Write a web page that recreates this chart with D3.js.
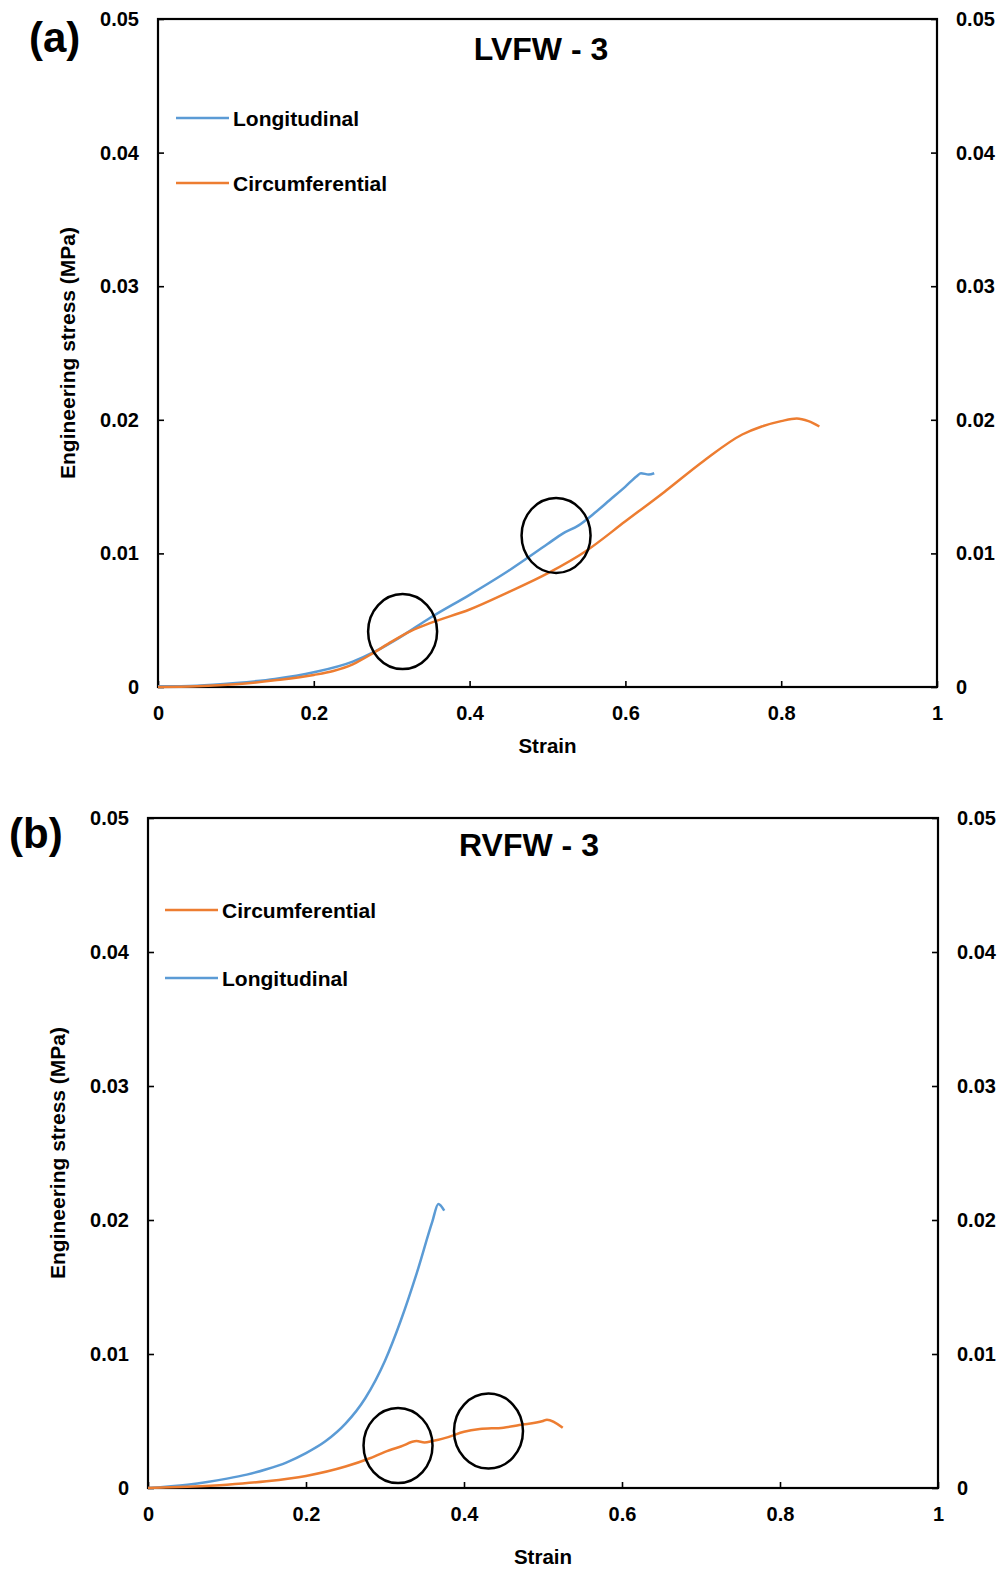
<!DOCTYPE html>
<html>
<head>
<meta charset="utf-8">
<script src="https://cdn.jsdelivr.net/npm/d3@7"></script>
<style>
  body { margin: 0; background: #fff; }
  svg { display: block; font-family: "Liberation Sans", Arial, sans-serif; font-weight: bold; }
</style>
</head>
<body>
<svg id="chart" width="1001" height="1570"></svg>
<script>
// axis ticks shared by both panels
const strainTicks = [0, 0.2, 0.4, 0.6, 0.8, 1];
const stressTicks = [0, 0.01, 0.02, 0.03, 0.04, 0.05];

// (a) LVFW - 3
const lvLongStrain = [0, 0.05, 0.1, 0.15, 0.2, 0.25, 0.28, 0.31, 0.35, 0.4, 0.45, 0.5, 0.52, 0.54, 0.56, 0.58, 0.6, 0.615, 0.62, 0.63, 0.637];
const lvLongStress = [0.00005, 0.0001, 0.0003, 0.0006, 0.0011, 0.0019, 0.0027, 0.0037, 0.0052, 0.0069, 0.0087, 0.0107, 0.0115, 0.0121, 0.013, 0.014, 0.015, 0.0158, 0.016, 0.0159, 0.016];
const lvCircStrain = [0, 0.05, 0.1, 0.15, 0.2, 0.225, 0.25, 0.275, 0.3, 0.325, 0.35, 0.4, 0.45, 0.5, 0.55, 0.6, 0.65, 0.7, 0.75, 0.775, 0.8, 0.82, 0.835, 0.849];
const lvCircStress = [0, 0.00005, 0.0002, 0.0005, 0.0009, 0.0012, 0.0017, 0.0025, 0.0034, 0.0042, 0.0048, 0.0058, 0.0071, 0.0085, 0.0102, 0.0124, 0.0146, 0.0169, 0.0189, 0.0195, 0.0199, 0.0201, 0.0199, 0.0195];
const lvMarkStrain = [0.314, 0.511];
const lvMarkStress = [0.00415, 0.01134];

// (b) RVFW - 3
const rvLongStrain = [0, 0.05, 0.075, 0.1, 0.125, 0.15, 0.175, 0.2, 0.225, 0.25, 0.275, 0.3, 0.32, 0.34, 0.36, 0.3675, 0.375];
const rvLongStress = [0, 0.00025, 0.00045, 0.0007, 0.001, 0.0014, 0.0019, 0.0026, 0.0035, 0.0048, 0.0067, 0.0095, 0.0125, 0.016, 0.0199, 0.0212, 0.0207];
const rvCircStrain = [0, 0.05, 0.1, 0.15, 0.2, 0.25, 0.28, 0.3, 0.32, 0.34, 0.35, 0.36, 0.38, 0.4, 0.42, 0.45, 0.47, 0.5, 0.505, 0.525];
const rvCircStress = [0, 0.0001, 0.00025, 0.0005, 0.0009, 0.0016, 0.0022, 0.0027, 0.0031, 0.0035, 0.0034, 0.0035, 0.0038, 0.0042, 0.0044, 0.0045, 0.0047, 0.005, 0.0051, 0.0045];
const rvMarkStrain = [0.3165, 0.431];
const rvMarkStress = [0.00317, 0.00425];

const BLUE = "#5b9bd5";
const ORANGE = "#ed7d31";

const svg = d3.select("#chart");

function zip(xs, ys) {
  return xs.map((x, i) => [x, ys[i]]);
}

function drawPanel(p) {
  const x = d3.scaleLinear().domain([0, 1]).range([p.left, p.right]);
  const y = d3.scaleLinear().domain([0, 0.05]).range([p.bottom, p.top]);
  const g = svg.append("g");
  const fmtY = (d) => (d === 0 ? "0" : d3.format(".2f")(d));
  const fmtX = (d) => (d === 0 || d === 1 ? String(d) : d3.format(".1f")(d));

  const styleAxis = (sel) => {
    sel.select(".domain").remove();
    sel.selectAll("text").attr("font-size", 20).attr("font-weight", "bold")
      .attr("font-family", "Liberation Sans, Arial, sans-serif").attr("fill", "#000");
    sel.selectAll(".tick line").attr("stroke", "#000").attr("stroke-width", 1.6);
  };

  g.append("g")
    .attr("transform", `translate(${p.left},0)`)
    .call(d3.axisLeft(y).tickValues(stressTicks).tickFormat(fmtY).tickSize(-6).tickPadding(19))
    .call(styleAxis);
  g.append("g")
    .attr("transform", `translate(${p.right},0)`)
    .call(d3.axisRight(y).tickValues(stressTicks).tickFormat(fmtY).tickSize(-6).tickPadding(19))
    .call(styleAxis);
  g.append("g")
    .attr("transform", `translate(0,${p.bottom})`)
    .call(d3.axisBottom(x).tickValues(strainTicks).tickFormat(fmtX).tickSize(-6).tickPadding(19))
    .call(styleAxis);

  g.append("rect")
    .attr("x", p.left).attr("y", p.top)
    .attr("width", p.right - p.left).attr("height", p.bottom - p.top)
    .attr("fill", "none").attr("stroke", "#000").attr("stroke-width", 2.2);

  const line = d3.line()
    .x((d) => x(d[0]))
    .y((d) => y(d[1]))
    .curve(d3.curveMonotoneX);

  g.selectAll(".series")
    .data(p.series)
    .join("path")
    .attr("class", "series")
    .attr("d", (s) => line(zip(s.strain, s.stress)))
    .attr("fill", "none")
    .attr("stroke", (s) => s.color)
    .attr("stroke-width", 2.5)
    .attr("stroke-linejoin", "round");

  g.selectAll(".mark")
    .data(zip(p.markStrain, p.markStress))
    .join("ellipse")
    .attr("class", "mark")
    .attr("cx", (d) => x(d[0]))
    .attr("cy", (d) => y(d[1]))
    .attr("rx", 34.5)
    .attr("ry", 37.5)
    .attr("fill", "none")
    .attr("stroke", "#000")
    .attr("stroke-width", 2.5);

  // legend
  p.legend.forEach((item, i) => {
    const ly = p.legendY + i * p.legendGap;
    g.append("line")
      .attr("x1", p.legendX).attr("x2", p.legendX + 53)
      .attr("y1", ly).attr("y2", ly)
      .attr("stroke", item.color).attr("stroke-width", 2.5);
    g.append("text")
      .attr("x", p.legendX + 57).attr("y", ly + 8)
      .attr("font-size", 21)
      .text(item.name);
  });

  g.append("text")
    .attr("x", p.titleX).attr("y", p.titleY)
    .attr("text-anchor", "middle")
    .attr("font-size", 32)
    .text(p.title);

  g.append("text")
    .attr("x", (p.left + p.right) / 2).attr("y", p.xTitleY)
    .attr("text-anchor", "middle")
    .attr("font-size", 20.5)
    .text("Strain");

  g.append("text")
    .attr("transform", `translate(${p.yTitleX},${(p.top + p.bottom) / 2}) rotate(-90)`)
    .attr("text-anchor", "middle")
    .attr("font-size", 21)
    .text("Engineering stress (MPa)");

  g.append("text")
    .attr("x", p.tagX).attr("y", p.tagY)
    .attr("font-size", 42)
    .text(p.tag);
}

drawPanel({
  left: 158, right: 937, top: 19, bottom: 687,
  title: "LVFW - 3", titleX: 541, titleY: 60,
  xTitleY: 753, yTitleX: 75,
  tag: "(a)", tagX: 29, tagY: 52,
  legendX: 176, legendY: 118, legendGap: 65,
  legend: [{ name: "Longitudinal", color: BLUE }, { name: "Circumferential", color: ORANGE }],
  series: [
    { strain: lvLongStrain, stress: lvLongStress, color: BLUE },
    { strain: lvCircStrain, stress: lvCircStress, color: ORANGE }
  ],
  markStrain: lvMarkStrain, markStress: lvMarkStress
});

drawPanel({
  left: 148, right: 938, top: 818, bottom: 1488,
  title: "RVFW - 3", titleX: 529, titleY: 856,
  xTitleY: 1564, yTitleX: 65,
  tag: "(b)", tagX: 9, tagY: 848,
  legendX: 165, legendY: 910, legendGap: 68,
  legend: [{ name: "Circumferential", color: ORANGE }, { name: "Longitudinal", color: BLUE }],
  series: [
    { strain: rvLongStrain, stress: rvLongStress, color: BLUE },
    { strain: rvCircStrain, stress: rvCircStress, color: ORANGE }
  ],
  markStrain: rvMarkStrain, markStress: rvMarkStress
});
</script>
</body>
</html>
